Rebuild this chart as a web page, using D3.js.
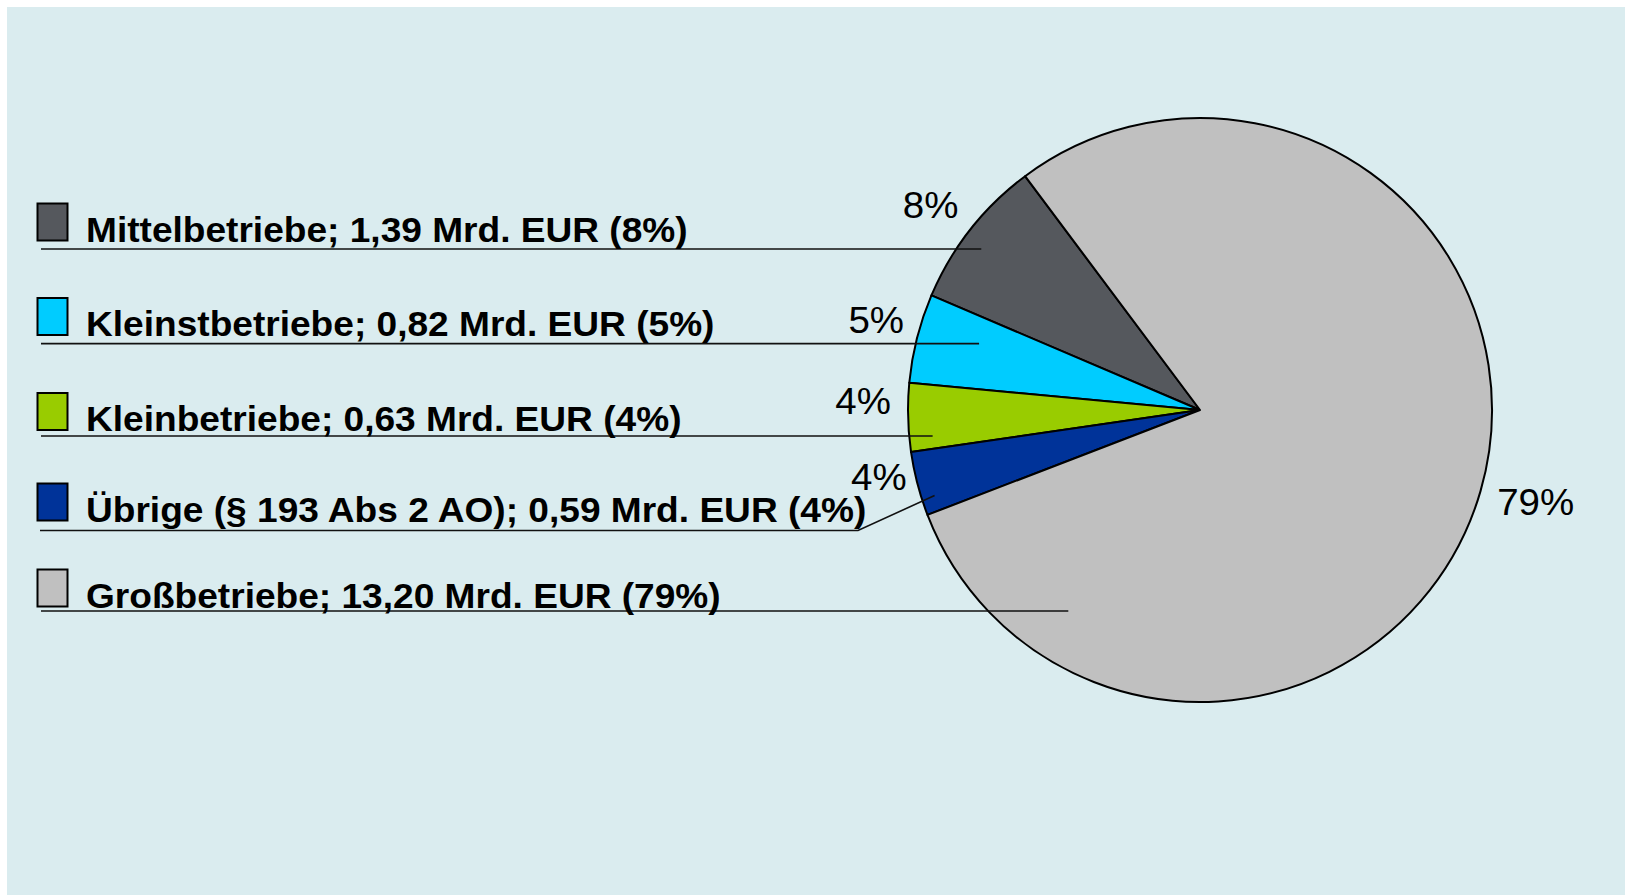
<!DOCTYPE html>
<html>
<head>
<meta charset="utf-8">
<script src="https://cdn.jsdelivr.net/npm/d3@7"></script>
<style>
  body { margin: 0; background: #fff; overflow: hidden; }
  text { font-family: "Liberation Sans", Arial, sans-serif; }
</style>
</head>
<body>
<script>
// data, in the order of the labels on the left
let names = ["Mittelbetriebe", "Kleinstbetriebe", "Kleinbetriebe", "Übrige (§ 193 Abs 2 AO)", "Großbetriebe"]
let values = [1.39, 0.82, 0.63, 0.59, 13.20]
let colors = ["#55585d", "#00ccff", "#99cc00", "#003399", "#c0c0c0"]

// layout of the labels
let rowTop = [203, 297.5, 392.5, 483, 569]
// where each leader line touches its slice: [part of slice angle, part of radius]
let leaderAt = [[0.56, 0.93], [0.36, 0.79], [0.80, 0.92], [0.75, 0.955], [0.125, 0.823]]
// percent labels: turn from the slice middle (degrees) and distance from centre
let pctTurn = [-0.8, 1.3, 3.0, 2.9, -0.8]
let pctDist = [339, 336, 337, 328, 348]

let width = 1625
let height = 895
let cx = 1200, cy = 410, radius = 292
let deg = Math.PI / 180

let de = d3.formatLocale({ decimal: ",", thousands: ".", grouping: [3], currency: ["", " EUR"] })
let fmt = de.format(".2f")
let total = d3.sum(values)
let pct = values.map(v => Math.round(v / total * 100) + "%")

let svg = d3.select("body").append("svg")
  .attr("width", width)
  .attr("height", height)

svg.append("rect")
  .attr("x", 7)
  .attr("y", 7)
  .attr("width", width - 7)
  .attr("height", height - 7)
  .attr("fill", "#daecef")

// counter-clockwise, so the big slice comes last
let pie = d3.pie()
  .sort(null)
  .value(d => d)
  .startAngle(-36.8 * deg)
  .endAngle(-396.8 * deg)

let arcs = pie(values)

let arc = d3.arc().innerRadius(0).outerRadius(radius)

let pieGroup = svg.append("g")
  .attr("transform", "translate(" + cx + ", " + cy + ")")

pieGroup.selectAll("path.slice")
  .data(arcs)
  .enter()
  .append("path")
    .attr("class", "slice")
    .attr("d", arc)
    .attr("fill", (d, i) => colors[i])
    .attr("stroke", "#000")
    .attr("stroke-width", 2)
    .attr("stroke-linejoin", "round")

// point inside a slice
const anchor = (d, i) => {
  let a = d.startAngle + leaderAt[i][0] * (d.endAngle - d.startAngle)
  let r = leaderAt[i][1] * radius
  return [cx + r * Math.sin(a), cy - r * Math.cos(a)]
}

let line = d3.line()

// leader lines
svg.selectAll("path.leader")
  .data(arcs)
  .enter()
  .append("path")
    .attr("class", "leader")
    .attr("fill", "none")
    .attr("stroke", "#111")
    .attr("stroke-width", 1.6)
    .attr("d", (d, i) => {
      let p = anchor(d, i)
      if (i == 3) {
        // this one bends below its text
        let y = rowTop[i] + 47.5
        return line([[40, y], [858, y], p])
      }
      return line([[41, p[1]], p])
    })

// label keys and texts
let rows = svg.selectAll("g.row")
  .data(arcs)
  .enter()
  .append("g")
    .attr("class", "row")

rows.append("rect")
  .attr("x", 37.5)
  .attr("y", (d, i) => rowTop[i] + 0.5)
  .attr("width", 30)
  .attr("height", 37)
  .attr("fill", (d, i) => colors[i])
  .attr("stroke", "#000")
  .attr("stroke-width", 2)

rows.append("text")
  .attr("transform", (d, i) => "translate(86, " + (rowTop[i] + 38.5) + ") scale(1.06, 1)")
  .style("font-size", "35px")
  .style("font-weight", "bold")
  .attr("fill", "#000")
  .text((d, i) => names[i] + "; " + fmt(values[i]) + " Mrd. EUR (" + pct[i] + ")")

// percentages outside the pie
pieGroup.selectAll("text.pct")
  .data(arcs)
  .enter()
  .append("text")
    .attr("class", "pct")
    .attr("transform", (d, i) => {
      let a = (d.startAngle + d.endAngle) / 2 + pctTurn[i] * deg
      let x = pctDist[i] * Math.sin(a)
      let y = -pctDist[i] * Math.cos(a)
      return "translate(" + x + ", " + y + ") scale(1.04, 1)"
    })
    .attr("text-anchor", "middle")
    .attr("dy", "0.36em")
    .style("font-size", "37px")
    .attr("fill", "#000")
    .text((d, i) => pct[i])
</script>
</body>
</html>
